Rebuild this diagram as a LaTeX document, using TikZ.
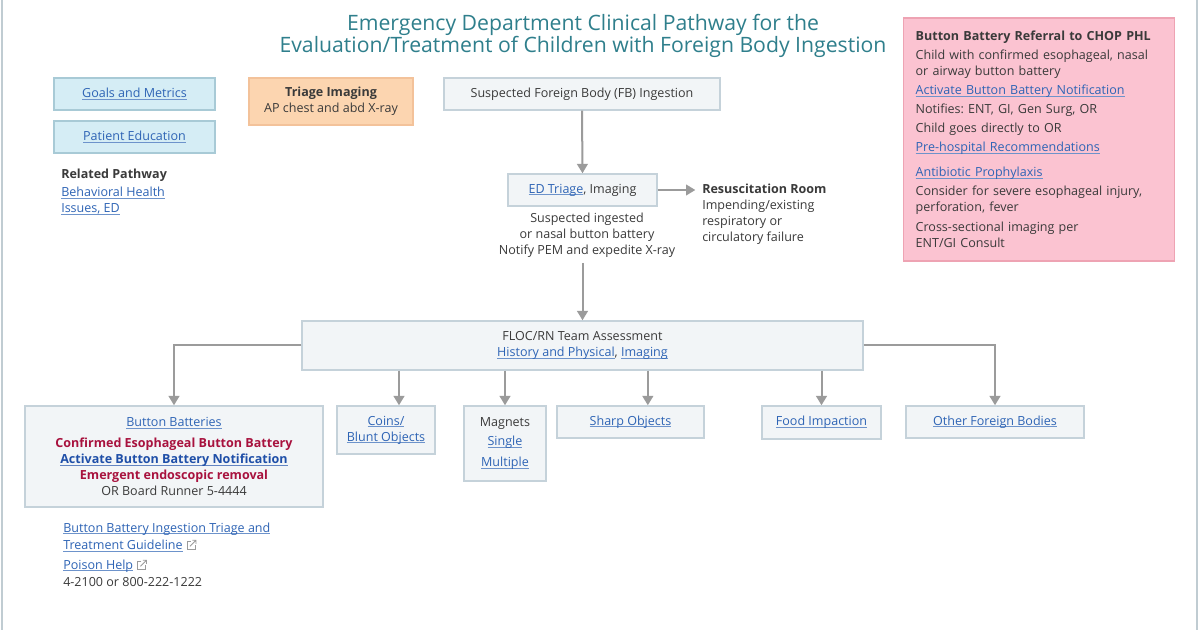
\documentclass[tikz,border=0pt]{standalone}
\usepackage{fontspec}
\setmainfont{Open Sans}
\usetikzlibrary{positioning,arrows.meta}
\frenchspacing

\definecolor{txt}{HTML}{3A3A3A}
\definecolor{linkblue}{HTML}{2E64B5}
\definecolor{darkblue}{HTML}{1F4FA8}
\definecolor{alertred}{HTML}{A8123E}
\definecolor{titleteal}{HTML}{2F7F8C}
\definecolor{flowfill}{HTML}{F2F5F7}
\definecolor{flowline}{HTML}{C5D2DA}
\definecolor{infofill}{HTML}{D5EDF5}
\definecolor{infoline}{HTML}{A8CAD6}
\definecolor{imgfill}{HTML}{FCD5B0}
\definecolor{imgline}{HTML}{F3C29A}
\definecolor{refill}{HTML}{FBC3D1}
\definecolor{reline}{HTML}{EEA3B3}
\definecolor{arrowgrey}{HTML}{9B9B9B}
\definecolor{framegrey}{HTML}{C0CCD2}

% link text, underlined close to the baseline
\newcommand{\ulk}[2]{\leavevmode{\color{#1}\setbox0\hbox{#2}\rlap{\color{#1!70}\rule[-1.3pt]{\wd0}{0.45pt}}\box0}}
\newcommand{\lnk}[1]{\ulk{linkblue}{#1}}

\begin{document}
\begin{tikzpicture}[
x=0.75pt, y=-0.75pt,
font=\fontsize{9.4}{12}\selectfont, text=txt,
flowbox/.style={rectangle, draw=flowline, fill=flowfill, line width=1.1pt, align=center, inner sep=0pt},
infobox/.style={rectangle, draw=infoline, fill=infofill, line width=1.1pt, align=center, inner sep=0pt},
flowarrow/.style={draw=arrowgrey, line width=1.5pt, -{Triangle[length=7pt,width=8pt]}},
plaintext/.style={inner sep=0pt, align=left},
exticon/.pic={
  \draw[arrowgrey, line width=0.6pt] (4,2) -- (0,2) -- (0,10) -- (8,10) -- (8,6);
  \draw[arrowgrey, line width=0.6pt] (3,7) -- (9,1) (5.5,1) -- (9,1) -- (9,4.5);
},
]
\useasboundingbox (0,0) rectangle (1200,630);
\fill[white] (0,0) rectangle (1200,630);
\draw[framegrey, line width=1.5pt] (2,0) -- (2,630) (1197,0) -- (1197,630);

%% Title
\node[inner sep=0pt, align=center, text=titleteal, font=\fontsize{15.9}{15.75}\selectfont] (title) at (583,36)
  {Emergency Department Clinical Pathway for the\\Evaluation/Treatment of Children with Foreign Body Ingestion};

%% Side boxes
\node[infobox, minimum width=120.75pt, minimum height=24pt] (goals) at (134.5,94) {\lnk{Goals and Metrics}};
\node[infobox, minimum width=120.75pt, minimum height=24pt] (educ) at (134.5,137) {\lnk{Patient Education}};
\node[plaintext, anchor=west] (related) at (61,192)
  {\textbf{Related Pathway}\\[1.5pt]\lnk{Behavioral Health}\\\lnk{Issues, ED}};
\node[rectangle, draw=imgline, fill=imgfill, line width=1.1pt, align=center, inner sep=0pt,
  minimum width=123pt, minimum height=35.25pt] (triageimg) at (331,101.5)
  {\textbf{Triage Imaging}\\AP chest and abd X-ray};

%% Referral box
\node[rectangle, draw=reline, fill=refill, line width=1.1pt, align=left, text width=185pt,
  inner xsep=9pt, inner ysep=0pt, minimum height=182pt] (referral) at (1039,139.5)
  {\textbf{Button Battery Referral to CHOP PHL}\\[2.25pt]
   Child with confirmed esophageal, nasal\\
   or airway button battery\\[2.25pt]
   \lnk{Activate Button Battery Notification}\\[2.25pt]
   Notifies: ENT, GI, Gen Surg, OR\\[2.25pt]
   Child goes directly to OR\\[2.25pt]
   \lnk{Pre-hospital Recommendations}\\[6.75pt]
   \lnk{Antibiotic Prophylaxis}\\[2.25pt]
   Consider for severe esophageal injury,\\
   perforation, fever\\[3pt]
   Cross-sectional imaging per\\
   ENT/GI Consult};

%% Main pathway
\node[flowbox, minimum width=207pt, minimum height=24pt] (suspected) at (582,94) {Suspected Foreign Body (FB) Ingestion};
\node[flowbox, minimum width=111.75pt, minimum height=24pt] (edtriage) at (582.5,190) {\lnk{ED Triage}, Imaging};
\node[inner sep=0pt, align=center] (ednote) at (587,235)
  {Suspected ingested\\or nasal button battery\\Notify PEM and expedite X-ray};
\node[plaintext, anchor=west] (resus) at (702,214)
  {\textbf{Resuscitation Room}\\Impending/existing\\respiratory or\\circulatory failure};
\node[flowbox, minimum width=420.75pt, minimum height=36.75pt] (floc) at (582.5,345.5)
  {FLOC/RN Team Assessment\\\lnk{History and Physical}, \lnk{Imaging}};

%% Foreign body types
\node[flowbox, minimum width=223.5pt, minimum height=75.75pt] (battery) at (174,456.5)
  {\lnk{Button Batteries}\\[3.75pt]
   {\color{alertred}\bfseries Confirmed Esophageal Button Battery}\\
   \ulk{darkblue}{\bfseries Activate Button Battery Notification}\\
   {\color{alertred}\bfseries Emergent endoscopic removal}\\
   OR Board Runner 5-4444};
\node[flowbox, minimum width=73.5pt, minimum height=36pt] (coins) at (386,430) {\lnk{Coins/}\\\lnk{Blunt Objects}};
\node[flowbox, minimum width=61.5pt, minimum height=56.25pt] (magnets) at (505,443.5)
  {Magnets\\[2.25pt]\lnk{Single}\\[3.75pt]\lnk{Multiple}};
\node[flowbox, minimum width=110.25pt, minimum height=24pt] (sharp) at (630.5,422) {\lnk{Sharp Objects}};
\node[flowbox, minimum width=89.25pt, minimum height=24.75pt] (food) at (821.5,422.5) {\lnk{Food Impaction}};
\node[flowbox, minimum width=133.5pt, minimum height=24pt] (other) at (995,422) {\lnk{Other Foreign Bodies}};
\coordinate (coinsin) at ([xshift=9.75pt]coins.north);
\coordinate (sharpin) at ([xshift=13pt]sharp.north);

%% Guideline links
\node[plaintext, anchor=west] (guide1) at (63,529) {\lnk{Button Battery Ingestion Triage and}};
\node[plaintext, anchor=west] (guide2) at (63,546) {\lnk{Treatment Guideline}};
\node[plaintext, anchor=west] (poison) at (63,566) {\lnk{Poison Help}};
\node[plaintext, anchor=west] (phone) at (63,582) {4-2100 or 800-222-1222};
\pic at ([xshift=3pt,yshift=5pt]guide2.east) {exticon};
\pic at ([xshift=3pt,yshift=5pt]poison.east) {exticon};

%%% 
%% Lines
\draw[flowarrow] (suspected.south) -- (edtriage.north);
\draw[flowarrow, shorten >=5pt] (edtriage.east) -- (edtriage.east -| resus.west);
\draw[flowarrow, shorten <=4pt] (ednote.south -| edtriage.south) -- (floc.north -| edtriage.south);
\draw[flowarrow] (floc.west) -| (battery.north);
\draw[flowarrow] (floc.east) -| (other.north);
\draw[flowarrow] (floc.south -| coinsin) -- (coinsin);
\draw[flowarrow] (floc.south -| magnets.north) -- (magnets.north);
\draw[flowarrow] (floc.south -| sharpin) -- (sharpin);
\draw[flowarrow] (floc.south -| food.north) -- (food.north);
\end{tikzpicture}
\end{document}
